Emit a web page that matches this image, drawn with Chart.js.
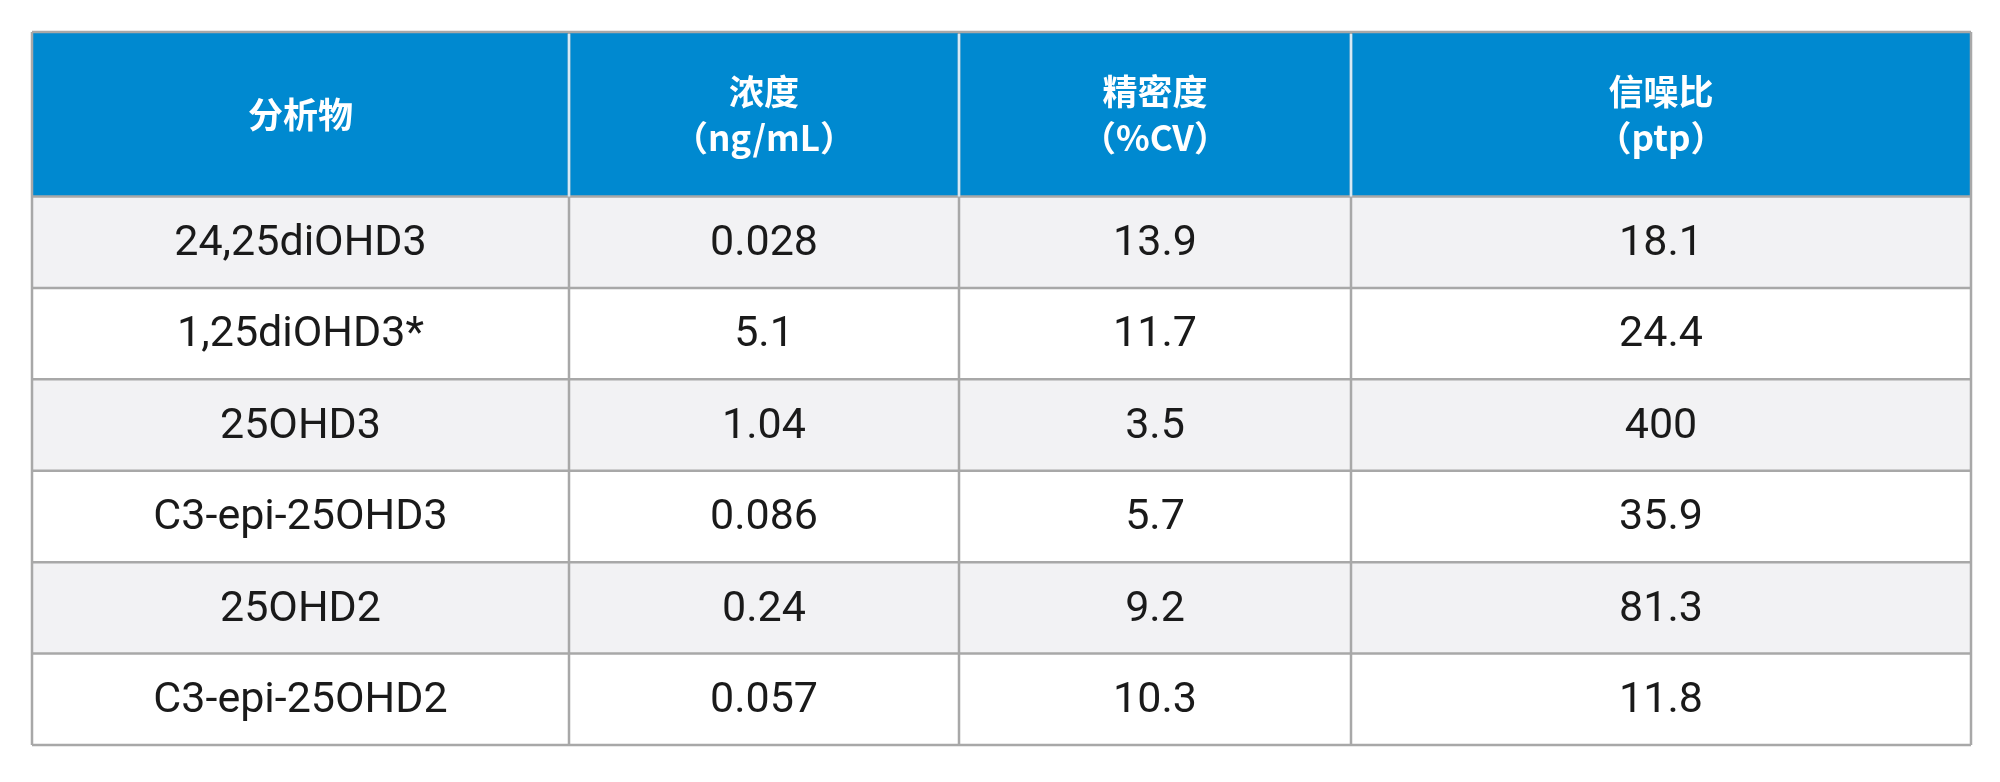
<!DOCTYPE html>
<html>
<head>
<meta charset="utf-8">
<script src="https://cdn.jsdelivr.net/npm/chart.js@4"></script>
<style>
  html, body { margin: 0; padding: 0; background: #fff; }
  #wrap { width: 2000px; height: 782px; }
</style>
</head>
<body>
<div id="wrap"><canvas id="tbl"></canvas></div>
<script>
// --- data ---
const headers = [['分析物'], ['浓度', '（ng/mL）'], ['精密度', '（%CV）'], ['信噪比', '（ptp）']];
const analytes = ['24,25diOHD3', '1,25diOHD3*', '25OHD3', 'C3-epi-25OHD3', '25OHD2', 'C3-epi-25OHD2'];
const concentration = ['0.028', '5.1', '1.04', '0.086', '0.24', '0.057'];
const precision = ['13.9', '11.7', '3.5', '5.7', '9.2', '10.3'];
const snRatio = ['18.1', '24.4', '400', '35.9', '81.3', '11.8'];

// layout (column edges in table units, header height in row units)
const colEdges = [0, 537, 927, 1319, 1939];
const headerRows = 1.8;

const columns = [analytes, concentration, precision, snRatio];

const tablePlugin = {
    id: 'tablePlugin',
    beforeDraw(chart) {
        const c = chart.ctx;
        const xs = chart.scales.x, ys = chart.scales.y;
        const X = v => xs.getPixelForValue(v);
        const Y = v => ys.getPixelForValue(v);
        c.save();

        // header
        c.fillStyle = '#0089d0';
        c.fillRect(X(0), Y(0), X(colEdges[4]) - X(0), Y(headerRows) - Y(0));
        c.fillStyle = '#fff';
        c.textAlign = 'center';
        c.textBaseline = 'middle';
        c.font = 'bold 35px "Noto Sans CJK SC", sans-serif';
        headers.forEach((lines, i) => {
            const cx = (X(colEdges[i]) + X(colEdges[i + 1])) / 2;
            const cy = Y(headerRows / 2);
            const lh = 46;
            lines.forEach((t, k) => {
                c.fillText(t, cx, cy + (k - (lines.length - 1) / 2) * lh);
            });
        });

        // body rows
        analytes.forEach((_, r) => {
            const y0 = Y(headerRows + r), y1 = Y(headerRows + r + 1);
            c.fillStyle = r % 2 === 0 ? '#f2f2f4' : '#ffffff';
            c.fillRect(X(0), y0, X(colEdges[4]) - X(0), y1 - y0);
            c.fillStyle = '#1a1a1a';
            c.font = '43px Roboto, "Noto Sans", sans-serif';
            columns.forEach((col, i) => {
                const cx = (X(colEdges[i]) + X(colEdges[i + 1])) / 2;
                c.fillText(col[r], cx, (y0 + y1) / 2 + 2);
            });
        });

        // grid lines
        c.strokeStyle = '#a8a8a8';
        c.lineWidth = 2.5;
        const yTop = Y(0), yBot = Y(headerRows + analytes.length);
        for (let r = 0; r <= analytes.length; r++) {
            const y = Y(headerRows + r);
            c.beginPath(); c.moveTo(X(0), y); c.lineTo(X(colEdges[4]), y); c.stroke();
        }
        c.beginPath(); c.moveTo(X(0), yTop); c.lineTo(X(colEdges[4]), yTop); c.stroke();
        colEdges.forEach(e => {
            c.beginPath(); c.moveTo(X(e), yTop); c.lineTo(X(e), yBot); c.stroke();
        });
        // light separators inside header
        c.strokeStyle = '#d6e9f5';
        colEdges.slice(1, 4).forEach(e => {
            c.beginPath(); c.moveTo(X(e), yTop + 2); c.lineTo(X(e), Y(headerRows)); c.stroke();
        });
        c.restore();
    }
};

new Chart(document.getElementById('tbl'), {
    type: 'scatter',
    data: { datasets: [{ data: [] }] },
    options: {
        responsive: true,
        maintainAspectRatio: false,
        animation: false,
        layout: { padding: { left: 32, right: 29, top: 32, bottom: 37 } },
        plugins: { legend: { display: false }, tooltip: { enabled: false } },
        scales: {
            x: { type: 'linear', min: 0, max: colEdges[4], display: false },
            y: { type: 'linear', min: 0, max: headerRows + analytes.length, reverse: true, display: false }
        }
    },
    plugins: [tablePlugin]
});
</script>
</body>
</html>
